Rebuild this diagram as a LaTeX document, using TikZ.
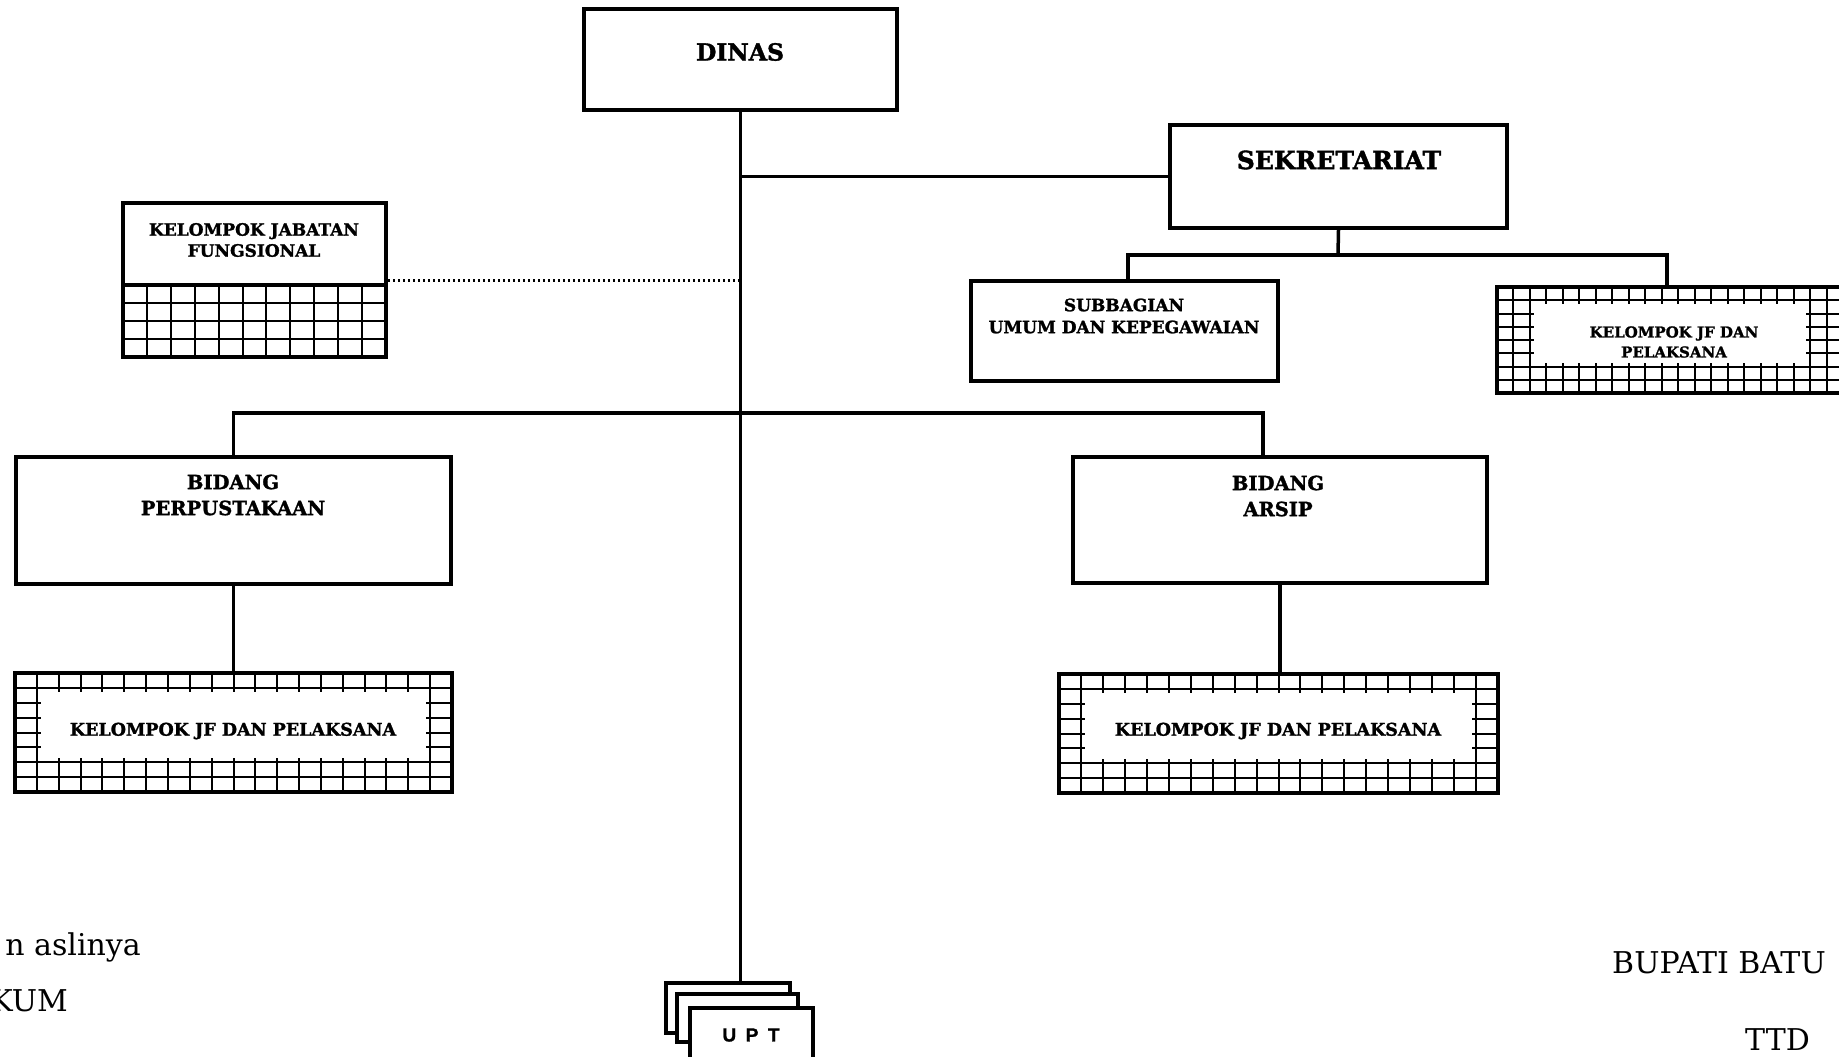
\documentclass[tikz,border=0pt]{standalone}
\usepackage{fontspec}
\setmainfont{DejaVu Serif}[BoldFeatures={FakeBold=1.5}]
\newfontfamily\uptfont{Liberation Sans}[BoldFeatures={FakeBold=1.2}]
\usetikzlibrary{calc}
\newcommand\gridarea[6]{%
  \pgfmathsetmacro\gdx{(#3-#1)/#5}%
  \pgfmathsetmacro\gdy{(#4-#2)/#6}%
  \foreach \i in {1,...,#5} {\draw[gridline] ({#1+\i*\gdx},#2) -- ({#1+\i*\gdx},#4);}%
  \foreach \j in {1,...,#6} {\draw[gridline] (#1,{#2+\j*\gdy}) -- (#3,{#2+\j*\gdy});}%
}
\begin{document}
\begin{tikzpicture}[x=1pt,y=-1pt,
  box/.style={draw, line width=3.5pt, inner sep=0pt},
  gbox/.style={draw, line width=4pt, inner sep=0pt},
  conn/.style={line width=3.5pt},
  dotconn/.style={line width=3pt, dash pattern=on 2.5pt off 2.5pt},
  gridline/.style={line width=2pt},
  lbl/.style={font=\bfseries, align=center, inner sep=0pt},
  plain/.style={inner sep=0pt, font=\fontsize{30}{36}\selectfont}]
\useasboundingbox (0,0) rectangle (1839,1057);

% ---------- grid patterns ----------
% Kelompok Jabatan Fungsional (lower part)
\gridarea{123}{285}{386}{357}{11}{4}
% JF Perpustakaan
\gridarea{15}{673}{452}{792}{20}{8}
\fill[white] (40.8,691.9) rectangle (426.2,758.3);
% JF Arsip
\gridarea{1059}{674}{1498}{793}{20}{8}
\fill[white] (1084.9,692.9) rectangle (1472.1,759.3);
% JF Sekretariat
\gridarea{1497}{287}{1843}{393}{21}{8}
\fill[white] (1534,304.3) rectangle (1806,362.5);

% ---------- boxes ----------
\node[box, minimum width=313, minimum height=101] (dinas) at (740.5,59.5) {};
\node[box, minimum width=337, minimum height=103] (sek) at (1338.5,176.5) {};
\node[box, minimum width=307, minimum height=100] (subbag) at (1124.5,331) {};
\node[box, minimum width=263, minimum height=154] (kjfl) at (254.5,280) {};
\draw[line width=4.5pt] (123,285) -- (386,285);
\node[box, minimum width=435, minimum height=127] (bp) at (233.5,520.5) {};
\node[box, minimum width=414, minimum height=126] (ba) at (1280,520) {};
\node[gbox, minimum width=437, minimum height=119] (jfp) at (233.5,732.5) {};
\node[gbox, minimum width=439, minimum height=119] (jfa) at (1278.5,733.5) {};
\node[gbox, minimum width=346, minimum height=106] (jfr) at (1670,340) {};
\node[box, fill=white, minimum width=124, minimum height=50] (upt1) at (728,1008) {};
\node[box, fill=white, minimum width=121, minimum height=48] (upt2) at (737.5,1018) {};
\node[box, fill=white, minimum width=123, minimum height=62] (upt3) at (751.5,1039) {};

% ---------- labels ----------
\node[lbl, font=\fontsize{23.5}{28}\selectfont\bfseries] (tdinas) at (740,52) {DINAS};
\node[lbl, font=\fontsize{25}{30}\selectfont\bfseries] (tsek) at (1339,160) {SEKRETARIAT};
\node[lbl, font=\fontsize{17}{22}\selectfont\bfseries] (tsub) at (1124,316) {SUBBAGIAN\\UMUM DAN KEPEGAWAIAN};
\node[lbl, font=\fontsize{17}{21}\selectfont\bfseries] (tkjfl) at (254,240) {KELOMPOK JABATAN\\FUNGSIONAL};
\node[lbl, font=\fontsize{19.5}{26}\selectfont\bfseries] (tbp) at (233,495) {BIDANG\\PERPUSTAKAAN};
\node[lbl, font=\fontsize{19.5}{26}\selectfont\bfseries] (tba) at (1278,496) {BIDANG\\ARSIP};
\node[lbl, font=\fontsize{17.5}{22}\selectfont\bfseries] (tjfp) at (233,731) {KELOMPOK JF DAN PELAKSANA};
\node[lbl, font=\fontsize{17.5}{22}\selectfont\bfseries] (tjfa) at (1278,731) {KELOMPOK JF DAN PELAKSANA};
\node[lbl, font=\fontsize{15}{20}\selectfont\bfseries] (tjfr) at (1674,342) {KELOMPOK JF DAN\\PELAKSANA};
\node[inner sep=0pt, font=\uptfont\bfseries\fontsize{19}{22}\selectfont] (tupt) at (751,1035) {U\,\,\,P\,\,\,T};

% ---------- connectors ----------
\draw[conn] (dinas.south) -- (dinas.south |- upt1.north);
\draw[conn] (dinas.south |- sek.west) -- (sek.west);
\coordinate (sekbar) at (1338,255);
\draw[conn] (sek.south) -- (sekbar);
\draw[conn] ([xshift=3.5pt]subbag.north) |- (sekbar) -| ([xshift=-3pt]jfr.north);
\draw[dotconn] (kjfl.east) -- (kjfl.east -| dinas.south);
\coordinate (hub) at (740.5,413);
\draw[conn] (bp.north) |- (hub) -| ([xshift=-17pt]ba.north);
\draw[conn] (bp.south) -- (jfp.north);
\draw[conn] (ba.south) -- (ba.south |- jfa.north);

% ---------- free text ----------
\node[plain, anchor=base east] (t1) at (141,955) {n aslinya};
\node[plain, anchor=base east] (t2) at (68,1011) {KUM};
\node[plain, anchor=base west] (t3) at (1612,973) {BUPATI BATU};
\node[plain, anchor=base west] (t4) at (1745,1050) {TTD};
\end{tikzpicture}
\end{document}
